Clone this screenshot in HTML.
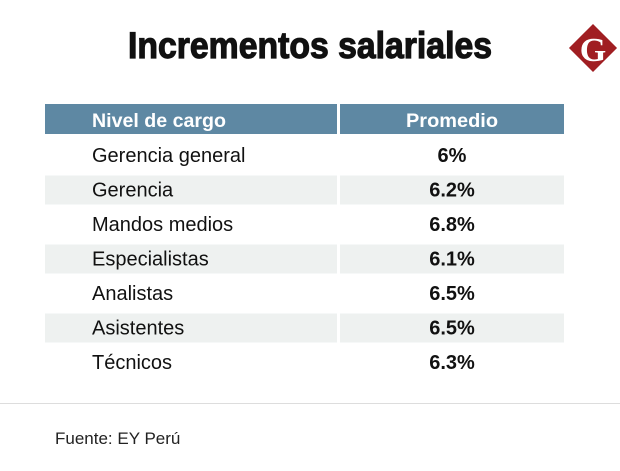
<!DOCTYPE html>
<html><head><meta charset="utf-8"><style>
html,body{margin:0;padding:0;background:#fff;width:620px;height:471px;overflow:hidden}
svg{display:block}
</style></head><body>
<svg id="chart" width="620" height="471" viewBox="0 0 620 471" font-family="'Liberation Sans', sans-serif">
  <text x="310" y="58" text-anchor="middle" font-size="37" font-weight="bold" fill="#111" stroke="#111" stroke-width="1.2" textLength="364" lengthAdjust="spacingAndGlyphs">Incrementos salariales</text>
  <g>
    <rect x="576" y="31" width="34" height="34" fill="#a01e22" transform="rotate(45 593 48)"/>
    <text x="593" y="61" text-anchor="middle" font-family="'Liberation Serif', serif" font-size="34" font-weight="bold" fill="#fff">G</text>
  </g>
  <rect x="45" y="104" width="292" height="30" fill="#5e88a3"/>
  <rect x="340" y="104" width="224" height="30" fill="#5e88a3"/>
  <text x="92" y="127" font-size="19" font-weight="bold" fill="#fff" textLength="134" lengthAdjust="spacingAndGlyphs">Nivel de cargo</text>
  <text x="452" y="127" text-anchor="middle" font-size="19" font-weight="bold" fill="#fff" textLength="92" lengthAdjust="spacingAndGlyphs">Promedio</text>
  <g id="rows"></g>
  <line x1="0" y1="403.5" x2="620" y2="403.5" stroke="#ddd" stroke-width="1"/>
  <text x="55" y="444" font-size="17" fill="#222">Fuente: EY Perú</text>
</svg>
<script>
const categories = ["Gerencia general","Gerencia","Mandos medios","Especialistas","Analistas","Asistentes","Técnicos"];
const values = [6, 6.2, 6.8, 6.1, 6.5, 6.5, 6.3];
const valueLabels = ["6%","6.2%","6.8%","6.1%","6.5%","6.5%","6.3%"];
const NS = "http://www.w3.org/2000/svg";
const g = document.getElementById("rows");
const rowY = i => 155 + i * 34.5;
categories.forEach((c, i) => {
  const cy = rowY(i);
  if (i % 2 === 1) {
    const r1 = document.createElementNS(NS, "rect");
    r1.setAttribute("x", 45); r1.setAttribute("y", cy - 14); r1.setAttribute("width", 292); r1.setAttribute("height", 29); r1.setAttribute("fill", "#eef1f0");
    
    
    g.appendChild(r1);
    const r2 = document.createElementNS(NS, "rect");
    r2.setAttribute("x", 340); r2.setAttribute("y", cy - 14); r2.setAttribute("width", 224); r2.setAttribute("height", 29); r2.setAttribute("fill", "#eef1f0");
    
    
    g.appendChild(r2);
  }
  const t = document.createElementNS(NS, "text");
  t.setAttribute("x", 92); t.setAttribute("y", cy + 7); t.setAttribute("font-size", 20); t.setAttribute("fill", "#111");
  t.textContent = c;
  
  
  g.appendChild(t);
  const v = document.createElementNS(NS, "text");
  v.setAttribute("x", 452); v.setAttribute("y", cy + 7); v.setAttribute("font-size", 20); v.setAttribute("font-weight", "bold"); v.setAttribute("text-anchor", "middle"); v.setAttribute("fill", "#111");
  v.textContent = valueLabels[i] || (values[i] + "%");
  
  
  g.appendChild(v);
});
</script>
</body></html>
